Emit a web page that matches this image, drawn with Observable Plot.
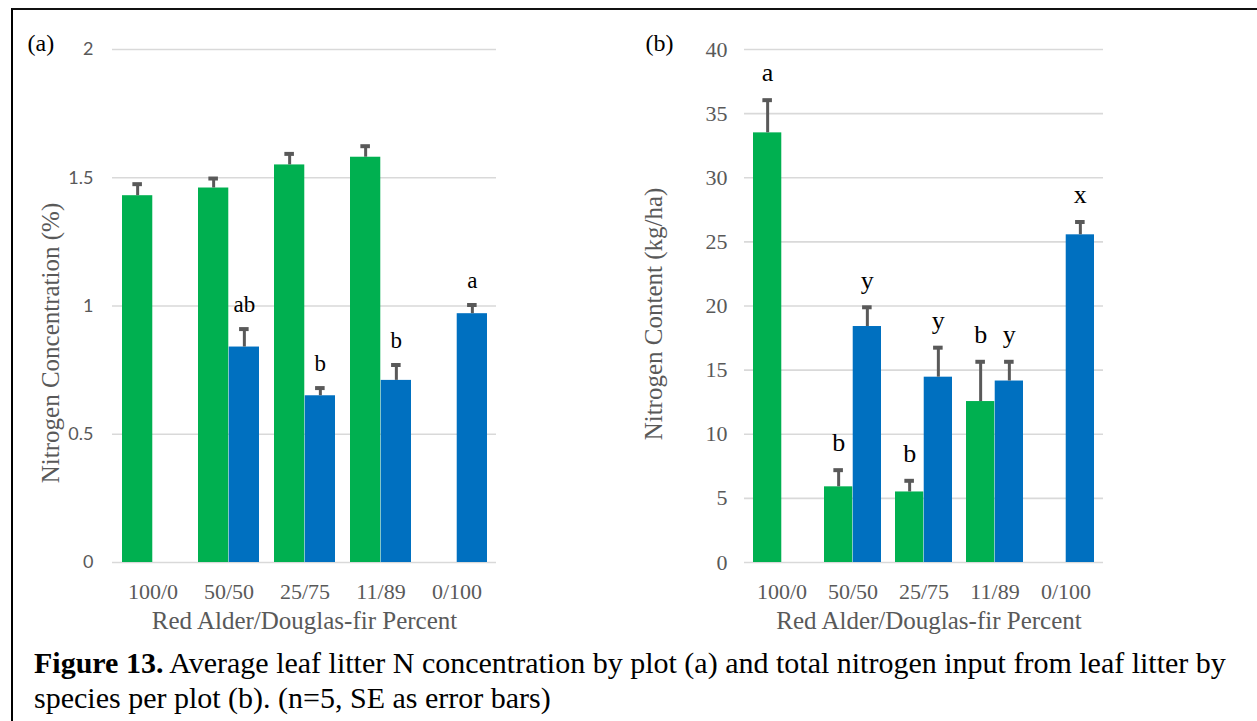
<!DOCTYPE html>
<html>
<head>
<meta charset="utf-8">
<script src="https://cdn.jsdelivr.net/npm/d3@7"></script>
<script src="https://cdn.jsdelivr.net/npm/@observablehq/plot@0.6"></script>
<style>
  html, body { margin: 0; padding: 0; background: #fff; }
  #page { position: relative; width: 1257px; height: 721px; overflow: hidden; background: #fff; }
  #frame { position: absolute; left: 11px; top: 8px; width: 1400px; height: 800px;
           border-left: 2px solid #000; border-top: 2px solid #111; }
  .chart { position: absolute; top: 0; }
  #chartA { left: 0; }
  #chartB { left: 620px; }
  #caption { position: absolute; left: 34px; top: 645px; font-family: "Liberation Serif", "Times New Roman", serif;
             font-size: 30px; line-height: 35px; color: #000; white-space: nowrap; }
  #caption b { font-family: "Liberation Serif", "Times New Roman", serif; }
</style>
</head>
<body>
<div id="page">
  <div id="frame"></div>
  <div id="chartA" class="chart"></div>
  <div id="chartB" class="chart"></div>
  <div id="caption"><b>Figure 13.</b> Average leaf litter N concentration by plot (a) and total nitrogen input from leaf litter by<br>species per plot (b). (n=5, SE as error bars)</div>
</div>
<script>
// ---- Data ----
const categories = ["100/0", "50/50", "25/75", "11/89", "0/100"];

// Panel (a): N concentration (%)
const alderConcA   = [1.43, 1.46, 1.55, 1.58, null];
const alderSeA     = [0.045, 0.037, 0.043, 0.043, null];
const alderLetterA = ["", "", "", "", ""];
const firConcA     = [null, 0.84, 0.65, 0.71, 0.97];
const firSeA       = [null, 0.07, 0.03, 0.06, 0.034];
const firLetterA   = ["", "ab", "b", "b", "a"];
const yTicksA = [0, 0.5, 1, 1.5, 2];

// Panel (b): N content (kg/ha)
const alderContB   = [33.5, 5.9, 5.5, 12.55, null];
const alderSeB     = [2.55, 1.3, 0.87, 3.1, null];
const alderLetterB = ["a", "b", "b", "b", ""];
const firContB     = [null, 18.4, 14.45, 14.15, 25.55];
const firSeB       = [null, 1.5, 2.3, 1.5, 1.0];
const firLetterB   = ["", "y", "y", "y", "x"];
const yTicksB = [0, 5, 10, 15, 20, 25, 30, 35, 40];

const panelLabels = ["(a)", "(b)"];
const yTitles = ["Nitrogen Concentration (%)", "Nitrogen Content (kg/ha)"];
const xTitle = "Red Alder/Douglas-fir Percent";

// ---- Styles ----
const GREEN = "#00B050";
const BLUE = "#0070C0";
const ERR = "#595959";
const AXIS_GRAY = "#595959";
const GRID = "#d9d9d9";
const SERIF = "'Liberation Serif', 'Times New Roman', serif";
const SANS = "Lato, 'Open Sans', sans-serif";

function rows(vals, ses, letters) {
  return categories.map((c, i) => ({cat: c, value: vals[i], se: ses[i], letter: letters[i]}))
                   .filter(d => d.value != null);
}

function panel({width, height, marginLeft, marginRight, marginTop, marginBottom, domain, ticks,
                tickFont, tickFontSize, tickPadY, alder, fir, letterSize, letterDy,
                label, yTitle, yTitleDx, yTitleDy, labelDx, xTitleDx}) {
  const plotW = width - marginLeft - marginRight;
  const step = plotW / categories.length;
  const bw = step * 0.8;
  const half = bw / 2, quarter = bw / 4;
  const capHalf = 5;
  const top = d => d.value + d.se;
  return Plot.plot({
    width, height, marginLeft, marginRight, marginTop, marginBottom,
    style: {background: "transparent", overflow: "visible"},
    x: {domain: categories, paddingInner: 0.2, paddingOuter: 0.1, label: null},
    y: {domain, label: null},
    marks: [
      Plot.gridY(ticks, {stroke: GRID, strokeOpacity: 1, strokeWidth: 1.6}),
      Plot.axisY(ticks, {tickSize: 0, tickPadding: tickPadY, fontSize: tickFontSize, fontFamily: tickFont,
                         fill: AXIS_GRAY, label: null, tickFormat: d => String(d)}),
      Plot.axisX({tickSize: 0, tickPadding: 21, fontSize: 22, fontFamily: SERIF, fill: AXIS_GRAY, label: null}),
      Plot.barY(alder, {x: "cat", y: "value", fill: GREEN, insetRight: half, insetLeft: 0}),
      Plot.barY(fir, {x: "cat", y: "value", fill: BLUE, insetLeft: half, insetRight: 0}),
      Plot.ruleX(alder, {x: "cat", y1: "value", y2: top, dx: -quarter, stroke: ERR, strokeWidth: 3}),
      Plot.ruleX(fir, {x: "cat", y1: "value", y2: top, dx: quarter, stroke: ERR, strokeWidth: 3}),
      Plot.tickY(alder, {x: "cat", y: top, stroke: ERR, strokeWidth: 4,
                         insetLeft: quarter - capHalf, insetRight: bw - quarter - capHalf}),
      Plot.tickY(fir, {x: "cat", y: top, stroke: ERR, strokeWidth: 4,
                       insetLeft: bw - quarter - capHalf, insetRight: quarter - capHalf}),
      Plot.text(alder, {x: "cat", y: top, text: "letter", dx: -quarter, dy: letterDy,
                        fontSize: letterSize, fontFamily: SERIF, fill: "#000"}),
      Plot.text(fir, {x: "cat", y: top, text: "letter", dx: quarter, dy: letterDy,
                      fontSize: letterSize, fontFamily: SERIF, fill: "#000"}),
      Plot.text([xTitle], {frameAnchor: "bottom", dx: xTitleDx, dy: 66, text: d => d, fontSize: 25,
                           textAnchor: "middle", fontFamily: SERIF, fill: AXIS_GRAY}),
      Plot.text([yTitle], {frameAnchor: "left", rotate: -90, dx: yTitleDx, dy: yTitleDy, text: d => d,
                           textAnchor: "middle", lineAnchor: "middle",
                           fontSize: 25, fontFamily: SERIF, fill: AXIS_GRAY}),
      Plot.text([label], {frameAnchor: "top-left", dx: labelDx, dy: -6, text: d => d, textAnchor: "start",
                          lineAnchor: "middle", fontSize: 24, fontFamily: SERIF, fill: "#000"})
    ]
  });
}

const chartA = panel({
  width: 620, height: 637, marginLeft: 112, marginRight: 124, marginTop: 49, marginBottom: 75,
  domain: [0, 2], ticks: yTicksA, tickFont: SANS, tickFontSize: 18, tickPadY: 19,
  alder: rows(alderConcA, alderSeA, alderLetterA), fir: rows(firConcA, firSeA, firLetterA),
  letterSize: 23, letterDy: -24, label: panelLabels[0], yTitle: yTitles[0], yTitleDx: -62, yTitleDy: 37,
  labelDx: -85, xTitleDx: 0
});
document.getElementById("chartA").appendChild(chartA);

const chartB = panel({
  width: 620, height: 637, marginLeft: 124, marginRight: 137, marginTop: 49, marginBottom: 75,
  domain: [0, 40], ticks: yTicksB, tickFont: SERIF, tickFontSize: 22, tickPadY: 17,
  alder: rows(alderContB, alderSeB, alderLetterB), fir: rows(firContB, firSeB, firLetterB),
  letterSize: 26, letterDy: -27, label: panelLabels[1], yTitle: yTitles[1], yTitleDx: -91, yTitleDy: 8,
  labelDx: -99, xTitleDx: 5
});
document.getElementById("chartB").appendChild(chartB);
</script>
</body>
</html>
